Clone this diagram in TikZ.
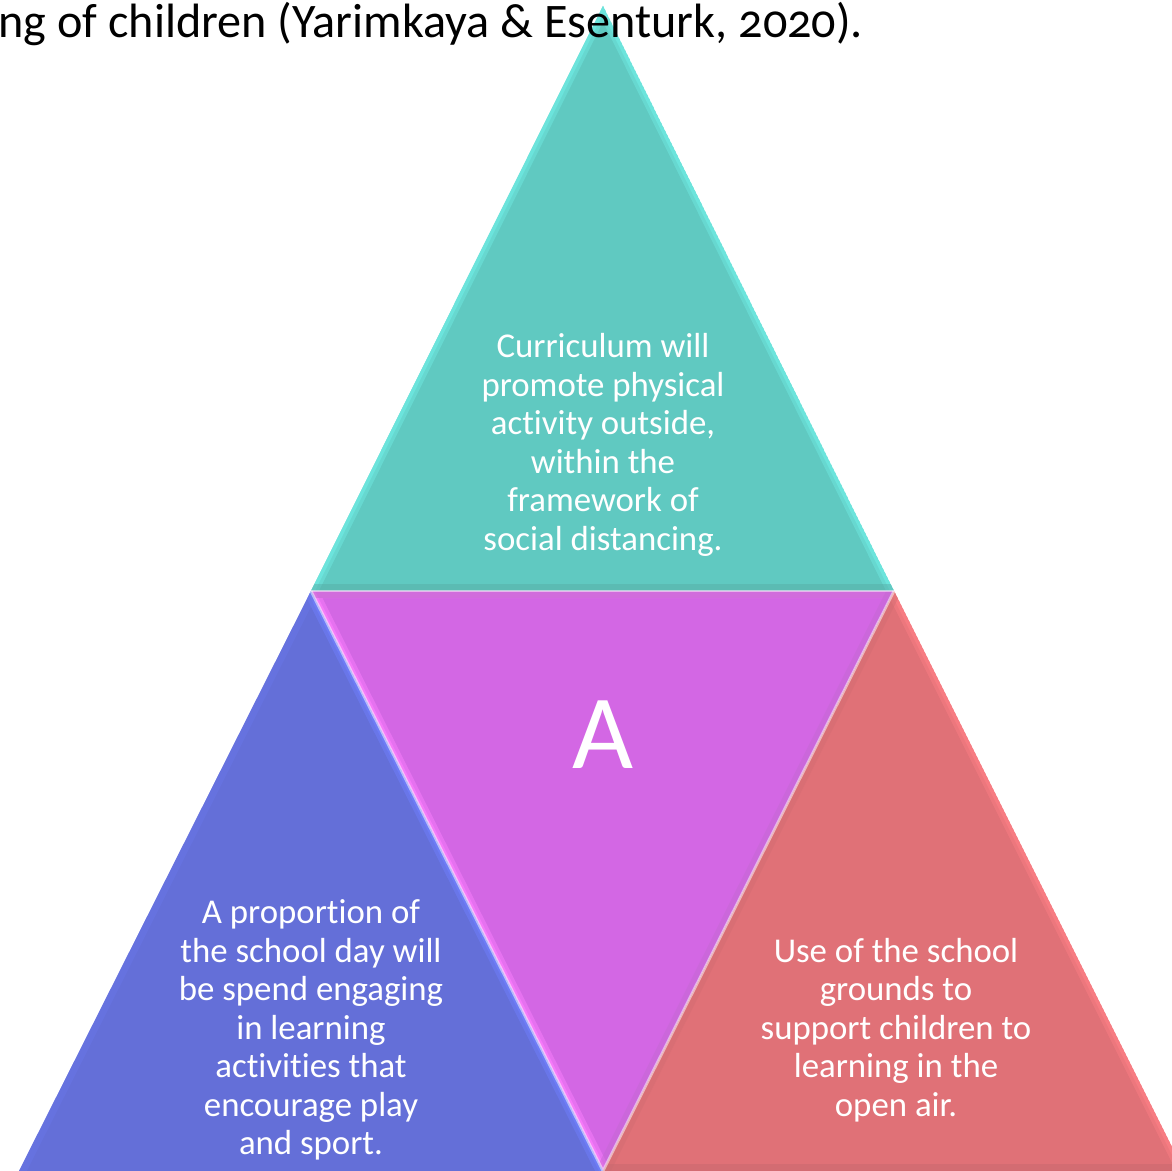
\documentclass[tikz,border=0pt]{standalone}
\usepackage{fontspec}
\setmainfont{Carlito}[Numbers=OldStyle, Ligatures=NoCommon]
\usetikzlibrary{positioning}

\definecolor{tealface}{RGB}{96,201,193}
\definecolor{tealedge}{RGB}{112,236,228}
\definecolor{tealdark}{RGB}{86,170,164}
\definecolor{pinkface}{RGB}{211,103,228}
\definecolor{pinkedge}{RGB}{255,128,255}
\definecolor{pinkdark}{RGB}{184,104,196}
\definecolor{blueface}{RGB}{100,111,216}
\definecolor{blueedge}{RGB}{112,128,255}
\definecolor{redface}{RGB}{224,113,119}
\definecolor{rededge}{RGB}{255,128,134}
\definecolor{reddark}{RGB}{196,104,110}

\begin{document}
\begin{tikzpicture}[x=0.01cm, y=-0.01cm,
        facetext/.style={text=white, align=center, inner sep=0pt, font=\fontsize{9.9}{10.95}\selectfont},
        bevel/.style={line width=4pt, opacity=0.45},
        bevelin/.style={line width=2pt, opacity=0.6},
        seam/.style={white, line width=0.8pt, opacity=0.5}
    ]
        \useasboundingbox (0,0) rectangle (1172,1171);
        \clip (0,0) rectangle (1172,1171);

        % Corners
        \coordinate (apex) at (603,6);
        \coordinate (midl) at (311,591);
        \coordinate (midr) at (894,591);
        \coordinate (foot) at (603,1171);
        \coordinate (footl) at (19,1171);
        \coordinate (footr) at (1184,1171);

        % Faces
        \begin{scope}
            \clip (apex) -- (midl) -- (midr) -- cycle;
            \fill[tealface] (apex) -- (midl) -- (midr) -- cycle;
            \draw[bevel, tealedge] (midl) -- (apex) -- (midr);
            \draw[bevelin, tealedge] (midl) -- (apex) -- (midr);
            \draw[bevel, tealdark] (midl) -- (midr);
        \end{scope}
        \begin{scope}
            \clip (midl) -- (midr) -- (foot) -- cycle;
            \fill[pinkface] (midl) -- (midr) -- (foot) -- cycle;
            \draw[bevel, pinkedge] (midr) -- (midl) -- (foot);
            \draw[bevelin, pinkedge] (midl) -- (foot);
            \draw[bevel, pinkdark] (midl) -- (midr);
            \draw[bevel, pinkdark!60!pinkface] (midr) -- (foot);
        \end{scope}
        \begin{scope}
            \clip (midl) -- (footl) -- (foot) -- cycle;
            \fill[blueface] (midl) -- (footl) -- (foot) -- cycle;
            \draw[bevel, blueedge] (midl) -- (foot);
            \draw[bevelin, blueedge] (midl) -- (foot);
            \draw[bevel, blueedge!40!blueface] (midl) -- (footl);
        \end{scope}
        \begin{scope}
            \clip (midr) -- (foot) -- (footr) -- cycle;
            \fill[redface] (midr) -- (foot) -- (footr) -- cycle;
            \draw[bevel, rededge] (midr) -- (footr);
            \draw[bevelin, rededge] (midr) -- (footr);
            \draw[bevel, reddark!50!redface] (foot) -- (midr);
            \draw[bevel, reddark] (foot) -- (footr);
        \end{scope}

        % Seams
        \draw[seam] (midl) -- (midr);
        \draw[seam] (midl) -- (foot) -- (midr);

        % Texts
        \node[facetext] (toptext) at (603,445) {Curriculum will\\promote physical\\activity outside,\\within the\\framework of\\social distancing.};
        \node[text=white, font=\fontsize{30}{30}\selectfont] (letter) at (603,735) {A};
        \node[facetext] (lefttext) at (311,1030) {A proportion of\\the school day will\\be spend engaging\\in learning\\activities that\\encourage play\\and sport.};
        \node[facetext] (righttext) at (896,1030) {Use of the school\\grounds to\\support children to\\learning in the\\open air.};
        \node[anchor=base west, inner sep=0pt, font=\fontsize{13.7}{16}\selectfont] (caption) at (-2,38) {ng of children (Yarimkaya \& Esenturk, 2020).};
\end{tikzpicture}
\end{document}
